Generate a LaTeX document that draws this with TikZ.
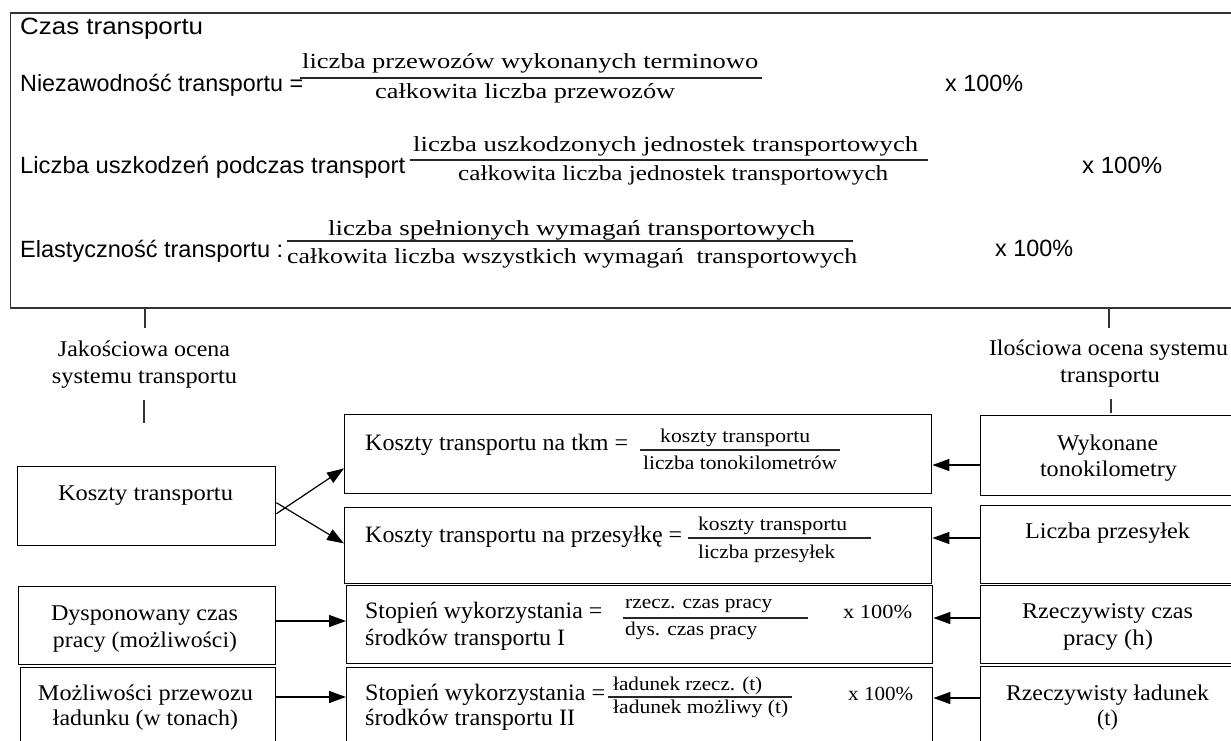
\documentclass[tikz,border=0pt]{standalone}
\usepackage{fontspec}
\setmainfont{Liberation Serif}
\newfontfamily\sansf{Liberation Sans}
\usepackage{graphicx}
\usetikzlibrary{arrows.meta,calc}
\newcommand{\tw}[2]{\resizebox{#1pt}{\height}{#2}}
\tikzset{
  box/.style={draw, line width=1.4pt, rectangle, inner sep=0pt, anchor=north west},
  txt/.style={inner sep=0pt, anchor=base west},
  ctxt/.style={inner sep=0pt, anchor=base},
  sanst/.style={txt, font=\sansf\fontsize{23.5}{27}\selectfont},
  topfr/.style={txt, font=\fontsize{21.5}{25}\selectfont},
  lbl/.style={ctxt, font=\fontsize{22.5}{26}\selectfont},
  midt/.style={txt, font=\fontsize{23.5}{27}\selectfont},
  smfr/.style={txt, font=\fontsize{19.5}{22}\selectfont},
  pct/.style={txt, font=\fontsize{20}{23}\selectfont},
  fline/.style={line width=1.3pt, black!85},
  arr/.style={line width=1.4pt, -{Triangle[length=17pt,width=12pt]}},
  tick/.style={line width=1.6pt, black!80}
}
\begin{document}
\begin{tikzpicture}[x=1pt,y=-1pt]
\useasboundingbox (0,0) rectangle (1231,740);
\clip (0,0) rectangle (1231,740);
\fill[white] (0,0) rectangle (1231,740);

% ---------- top box ----------
\node[box, line width=1.6pt, draw=black!80, minimum width=1240pt, minimum height=295pt] (top) at (9.5,12) {};
\node[sanst] (czas) at (20,34) {\tw{183}{Czas transportu}};
\node[sanst] (niez) at (20,91) {\tw{283}{Niezawodność transportu =}};
\node[sanst] (uszk) at (20,173) {\tw{385}{Liczba uszkodzeń podczas transport}};
\node[sanst] (elas) at (20,257) {\tw{263}{Elastyczność transportu :}};

\node[topfr] (n1) at (302,68) {\tw{456}{liczba przewozów wykonanych terminowo}};
\node[topfr] (d1) at (375,98) {\tw{300}{całkowita liczba przewozów}};
\draw[fline] (300,78) -- (762,78);
\node[topfr] (n2) at (413,151) {\tw{505}{liczba uszkodzonych jednostek transportowych}};
\node[topfr] (d2) at (458,180) {\tw{430}{całkowita liczba jednostek transportowych}};
\draw[fline] (410,160) -- (928,160);
\node[topfr] (n3) at (328,235) {\tw{487}{liczba spełnionych wymagań transportowych}};
\node[topfr] (d3) at (287,263) {\tw{570}{całkowita liczba wszystkich wymagań\ \ transportowych}};
\draw[fline] (287,241) -- (853,241);

\node[sanst] (p1) at (945,91) {\tw{78}{x 100\%}};
\node[sanst] (p2) at (1082,173) {\tw{80}{x 100\%}};
\node[sanst] (p3) at (995,256) {\tw{78}{x 100\%}};

% ---------- side labels ----------
\node[lbl] (jak1) at (144,356) {\tw{172}{Jakościowa ocena}};
\node[lbl] (jak2) at (144.5,383) {\tw{185}{systemu transportu}};
\node[lbl] (ilo1) at (1108.5,355) {\tw{239}{Ilościowa ocena systemu}};
\node[lbl] (ilo2) at (1110,382) {\tw{100}{transportu}};
\draw[tick] (top.south -| 145,0) -- (145,328);
\draw[tick] (144,400) -- (144,423);
\draw[tick] (top.south -| 1109,0) -- (1109,328);
\draw[tick] (1111,399) -- (1111,413);

% ---------- left column ----------
\node[box, minimum width=258pt, minimum height=79pt] (kt) at (17,466) {};
\node[lbl] (ktt) at (145.5,500) {\tw{175}{Koszty transportu}};
\node[box, minimum width=257pt, minimum height=78pt] (dysp) at (18,586) {};
\node[lbl] (dysp1) at (144.5,620) {\tw{187}{Dysponowany czas}};
\node[lbl] (dysp2) at (145,647) {\tw{184}{pracy (możliwości)}};
\node[box, minimum width=255pt, minimum height=90pt] (mozl) at (20,667) {};
\node[lbl] (mozl1) at (145.5,700) {\tw{215}{Możliwości przewozu}};
\node[lbl] (mozl2) at (145.5,725) {\tw{185}{ładunku (w tonach)}};

% ---------- middle column ----------
\node[box, minimum width=587pt, minimum height=79pt] (tkm) at (344,414) {};
\node[midt] (tkmt) at (365,450) {\tw{263}{Koszty transportu na tkm =}};
\node[smfr] (tkmn) at (660,442) {\tw{150}{koszty transportu}};
\node[smfr] (tkmd) at (643,469) {\tw{194}{liczba tonokilometrów}};
\draw[fline] (640,450) -- (840,450);

\node[box, minimum width=587pt, minimum height=76pt] (przes) at (344,507) {};
\node[midt] (przest) at (365,542) {\tw{317}{Koszty transportu na przesyłkę =}};
\node[smfr] (przesn) at (698,530) {\tw{149}{koszty transportu}};
\node[smfr] (przesd) at (698,558) {\tw{137}{liczba przesyłek}};
\draw[fline] (688,538) -- (871,538);

\node[box, minimum width=586pt, minimum height=78pt] (st1) at (346,585) {};
\node[midt] (st1a) at (365,618) {\tw{237}{Stopień wykorzystania =}};
\node[midt] (st1b) at (365,645) {\tw{200}{środków transportu I}};
\node[smfr] (st1n) at (625,608) {\tw{147}{rzecz. czas pracy}};
\node[smfr] (st1d) at (625,635) {\tw{132}{dys. czas pracy}};
\draw[fline] (623,618) -- (808,618);
\node[pct] (st1p) at (843,618) {\tw{69}{x 100\%}};

\node[box, minimum width=586pt, minimum height=90pt] (st2) at (346,667) {};
\node[midt] (st2a) at (365,700) {\tw{240}{Stopień wykorzystania =}};
\node[midt] (st2b) at (365,725) {\tw{210}{środków transportu II}};
\node[smfr] (st2n) at (613,690) {\tw{149}{ładunek rzecz. (t)}};
\node[smfr] (st2d) at (613,713) {\tw{175}{ładunek możliwy (t)}};
\draw[fline] (608,697) -- (792,697);
\node[pct] (st2p) at (848,700) {\tw{65}{x 100\%}};

% ---------- right column ----------
\node[box, minimum width=260pt, minimum height=80pt] (wyk) at (980,415) {};
\node[lbl] (wyk1) at (1107.5,450) {\tw{101}{Wykonane}};
\node[lbl] (wyk2) at (1108.5,476) {\tw{137}{tonokilometry}};
\node[box, minimum width=260pt, minimum height=78pt] (lp) at (980,505) {};
\node[lbl] (lpt) at (1107.5,538) {\tw{165}{Liczba przesyłek}};
\node[box, minimum width=260pt, minimum height=78pt] (rcz) at (980,585) {};
\node[lbl] (rcz1) at (1107.5,618) {\tw{171}{Rzeczywisty czas}};
\node[lbl] (rcz2) at (1108,645) {\tw{90}{pracy (h)}};
\node[box, minimum width=260pt, minimum height=90pt] (rl) at (980,666) {};
\node[lbl] (rl1) at (1107.5,700) {\tw{203}{Rzeczywisty ładunek}};
\node[lbl] (rl2) at (1107.5,725) {\tw{21}{(t)}};

% ---------- connectors ----------
\coordinate (a1) at (0,465);
\coordinate (a2) at (0,538);
\coordinate (a3) at (0,618);
\coordinate (a4) at (0,698);
\coordinate (a5) at (0,621);
\coordinate (a6) at (0,697);
\draw[arr] (wyk.west |- a1) -- (tkm.east |- a1);
\draw[arr] (lp.west |- a2) -- (przes.east |- a2);
\draw[arr] (rcz.west |- a3) -- (st1.east |- a3);
\draw[arr] (rl.west |- a4) -- (st2.east |- a4);
\draw[arr] (dysp.east |- a5) -- (st1.west |- a5);
\draw[arr] (mozl.east |- a6) -- (st2.west |- a6);
\draw[arr, line width=1.2pt] ($(kt.east)+(0,7.5)$) -- ($(tkm.south west)+(0,-26)$);
\draw[arr, line width=1.2pt] ($(kt.east)+(0,-3.5)$) -- ($(przes.south west)+(0,-41)$);
\end{tikzpicture}
\end{document}
